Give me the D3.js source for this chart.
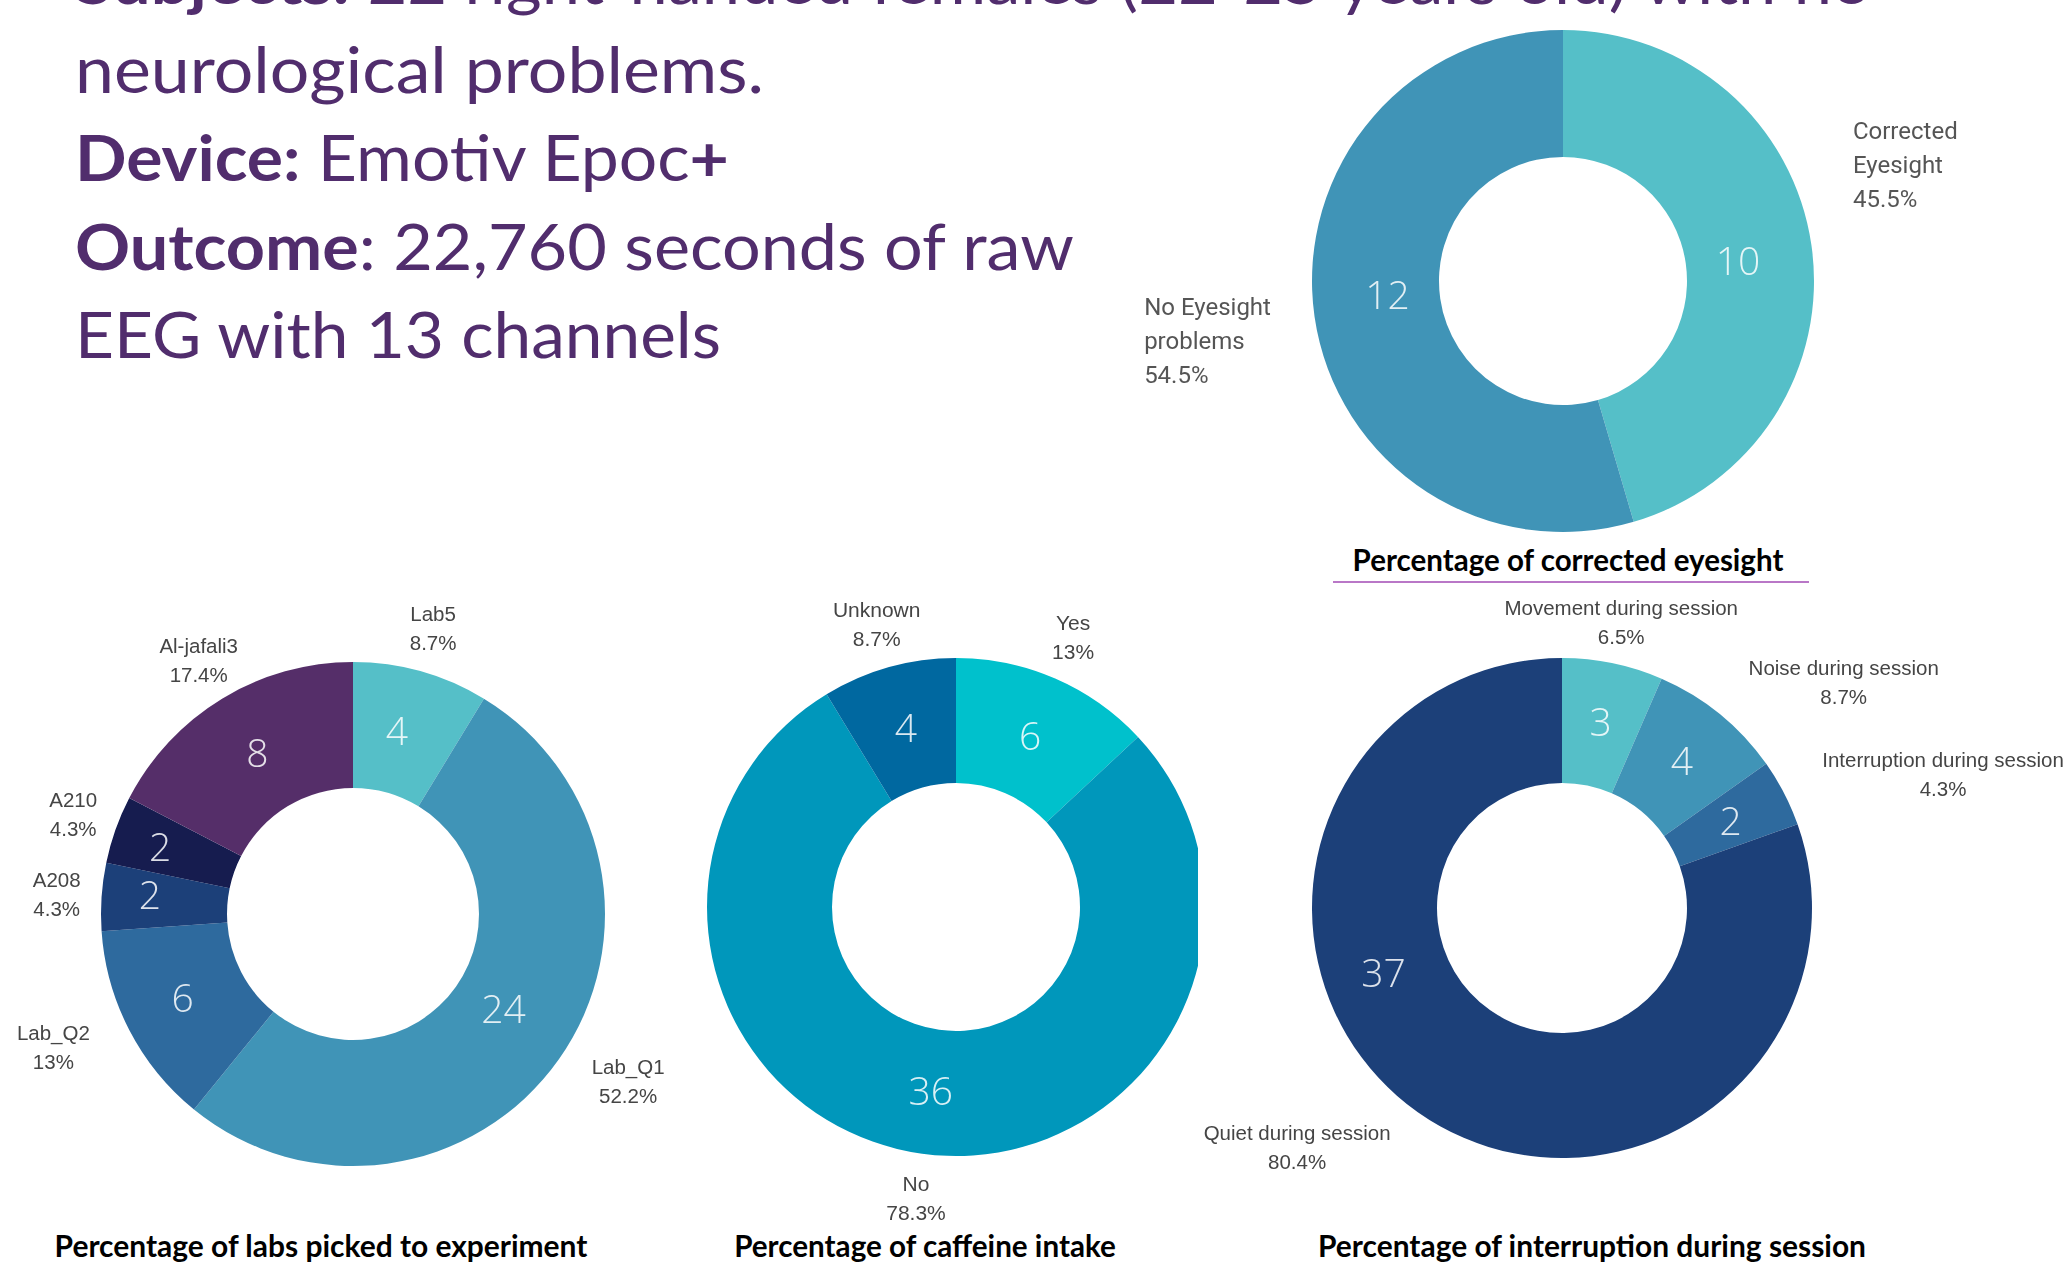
<!DOCTYPE html>
<html>
<head>
<meta charset="utf-8">
<script src="https://cdn.jsdelivr.net/npm/d3@7"></script>
<style>
  html, body { margin: 0; padding: 0; background: #ffffff; }
  svg { display: block; }
</style>
</head>
<body>
<svg id="page" width="2066" height="1267"></svg>
<script>
// ---- Study description ----
const introLines = [
  [["Subjects:", true], [" 22 right-handed females (22-25 years old) with no", false]],
  [["neurological problems.", false]],
  [["Device:", true], [" Emotiv Epoc", false], ["+", true]],
  [["Outcome", true], [": 22,760 seconds of raw", false]],
  [["EEG with 13 channels", false]]
];

// ---- Eyesight ----
const eyesightCategories = ["Corrected\nEyesight", "No Eyesight\nproblems"];
const eyesightCounts = [10, 12];
const eyesightTitle = "Percentage of corrected eyesight";

// ---- Labs ----
const labCategories = ["Lab5", "Lab_Q1", "Lab_Q2", "A208", "A210", "Al-jafali3"];
const labCounts = [4, 24, 6, 2, 2, 8];
const labTitle = "Percentage of labs picked to experiment";

// ---- Caffeine ----
const caffeineCategories = ["Yes", "No", "Unknown"];
const caffeineCounts = [6, 36, 4];
const caffeineTitle = "Percentage of caffeine intake";

// ---- Interruptions ----
const interruptionCategories = ["Movement during session", "Noise during session",
                                "Interruption during session", "Quiet during session"];
const interruptionCounts = [3, 4, 2, 37];
const interruptionTitle = "Percentage of interruption during session";

const svg = d3.select("#page");
const deg = Math.PI / 180;
const pct = v => `${+(v * 100).toFixed(1)}%`;
const polar = (aDeg, r) => [r * Math.sin(aDeg * deg), -r * Math.cos(aDeg * deg)];
const pick = (v, i, fallback) => Array.isArray(v) ? (v[i] != null ? v[i] : fallback) : (v != null ? v : fallback);

// soft edge, like an exported chart image
const defs = svg.append("defs");
defs.append("filter").attr("id", "soft")
  .append("feGaussianBlur").attr("stdDeviation", 0.6);

// ---- intro text block ----
const purple = "#512d6d";
const introTop = 4, introStep = 88.5, introLeft = 75;
const introWidths = [1796, 689, 654, 999, 646];
introLines.forEach((parts, i) => {
  const t = svg.append("text")
    .attr("x", introLeft)
    .attr("y", introTop + i * introStep)
    .attr("font-family", "Lato, 'Open Sans', sans-serif")
    .attr("font-size", 64)
    .attr("fill", purple)
    .attr("textLength", introWidths[i])
    .attr("lengthAdjust", "spacingAndGlyphs");
  parts.forEach(([s, bold]) => {
    t.append("tspan").attr("font-weight", bold ? 700 : 400).text(s);
  });
});

// ---- generic donut ----
function donut(cfg) {
  const outerG = svg.append("g");
  if (cfg.clipRight != null) {
    const id = "clip-" + cfg.key;
    defs.append("clipPath").attr("id", id)
      .append("rect").attr("x", 0).attr("y", 0)
      .attr("width", cfg.clipRight).attr("height", 1267);
    outerG.attr("clip-path", `url(#${id})`);
  }
  const g = outerG.append("g")
    .attr("transform", `translate(${cfg.cx},${cfg.cy})`)
    .attr("filter", "url(#soft)");

  const total = d3.sum(cfg.values);
  const arcs = d3.pie().sort(null).value(d => d)(cfg.values);
  const color = d3.scaleOrdinal().domain(cfg.categories).range(cfg.colors);
  const arc = d3.arc().innerRadius(cfg.inner).outerRadius(cfg.outer);

  g.selectAll("path.slice")
    .data(arcs)
    .join("path")
    .attr("class", "slice")
    .attr("d", arc)
    .attr("fill", (d, i) => color(cfg.categories[i]));

  // counts inside the ring
  g.selectAll("text.count")
    .data(arcs)
    .join("text")
    .attr("class", "count")
    .each(function (d, i) {
      const mid = (d.startAngle + d.endAngle) / 2 / deg;
      const a = pick(cfg.countAngle, i, mid);
      const r = pick(cfg.countRadius, i, (cfg.inner + cfg.outer) / 2);
      const [x, y] = polar(a, r);
      d3.select(this)
        .attr("x", x)
        .attr("y", y + 0.357 * cfg.countSize)
        .attr("text-anchor", "middle");
    })
    .attr("font-family", "'Open Sans', sans-serif")
    .attr("font-weight", 300)
    .attr("font-size", cfg.countSize)
    .attr("fill", "#ffffff")
    .attr("fill-opacity", 0.85)
    .text(d => d.value);

  // category + share labels around the ring
  arcs.forEach((d, i) => {
    const mid = (d.startAngle + d.endAngle) / 2 / deg;
    const a = pick(cfg.labelAngle, i, mid);
    const dist = pick(cfg.labelDist, i, cfg.outer + 40);
    const [x, y] = polar(a, dist);
    const lines = cfg.categories[i].split("\n").concat(pct(d.value / total));
    const n = lines.length;
    const t = g.append("text")
      .attr("font-family", cfg.labelFont)
      .attr("font-weight", cfg.labelWeight)
      .attr("font-size", cfg.labelSize)
      .attr("fill", cfg.labelColor)
      .attr("text-anchor", cfg.labelAnchor);
    lines.forEach((s, k) => {
      t.append("tspan")
        .attr("x", x)
        .attr("y", y + (k - (n - 1) / 2) * cfg.lineStep + 0.36 * cfg.labelSize)
        .text(s);
    });
  });
}

// chart title, sized to its column
function title(text, cx, baseline, width) {
  const t = svg.append("text")
    .attr("x", cx).attr("y", baseline)
    .attr("text-anchor", "middle")
    .attr("font-family", "Lato, 'Open Sans', sans-serif")
    .attr("font-weight", 700)
    .attr("font-size", 27)
    .attr("fill", "#000000")
    .text(text);
  const w = t.node().getComputedTextLength();
  t.attr("font-size", 27 * width / w);
  return t;
}

const teal = "#55bfc8", blue = "#4194b7", steel = "#2d6a9e", navy = "#1b3f79";

donut({
  key: "eyesight", cx: 1563, cy: 281, outer: 251, inner: 124,
  categories: eyesightCategories, values: eyesightCounts,
  colors: [teal, blue],
  countRadius: 176, countAngle: [83.6, 265.3], countSize: 39,
  labelAngle: [68.0, 262.0], labelDist: [312.7, 423],
  labelFont: "Roboto, sans-serif", labelWeight: 400, labelSize: 24,
  labelColor: "#555555", labelAnchor: "start", lineStep: 34
});

donut({
  key: "labs", cx: 353, cy: 914, outer: 252, inner: 126,
  categories: labCategories, values: labCounts,
  colors: [teal, blue, steel, navy, "#121a50", "#552f69"],
  countRadius: [188, 178, 190, 204, 204, 187],
  countAngle: [13.5, 122.2, 243.7, 275.3, 289.1, 329.2],
  countSize: 39,
  labelAngle: [null, 121.3, 246.0, null, null, null],
  labelDist: [297, 322, 328, 297, 297, 297],
  labelFont: "'Liberation Sans', Arial, sans-serif", labelWeight: 400, labelSize: 20.5,
  labelColor: "#454545", labelAnchor: "middle", lineStep: 29
});

donut({
  key: "caffeine", cx: 956, cy: 907, outer: 249, inner: 124, clipRight: 1198,
  categories: caffeineCategories, values: caffeineCounts,
  colors: ["#00c1cc", "#0097bb", "#0068a0"],
  countRadius: 186, countSize: 39,
  labelDist: 294,
  labelFont: "'Liberation Sans', Arial, sans-serif", labelWeight: 400, labelSize: 21,
  labelColor: "#454545", labelAnchor: "middle", lineStep: 29
});

donut({
  key: "interruption", cx: 1562, cy: 908, outer: 250, inner: 125,
  categories: interruptionCategories, values: interruptionCounts,
  colors: [teal, blue, steel, navy],
  countRadius: 190, countSize: 39, countAngle: [null, null, null, 250],
  labelAngle: [11.7, 51.3, 70.6, 227.9], labelDist: [292, 361, 404, 357],
  labelFont: "'Liberation Sans', Arial, sans-serif", labelWeight: 400, labelSize: 20.5,
  labelColor: "#454545", labelAnchor: "middle", lineStep: 29
});

// titles
title(eyesightTitle, 1568, 571, 431);
svg.append("line")
  .attr("x1", 1333).attr("x2", 1809)
  .attr("y1", 582).attr("y2", 582)
  .attr("stroke", "#a24ab4").attr("stroke-width", 1.5);
title(labTitle, 321, 1257, 533);
title(caffeineTitle, 925, 1257, 382);
title(interruptionTitle, 1592, 1257, 548);
</script>
</body>
</html>
